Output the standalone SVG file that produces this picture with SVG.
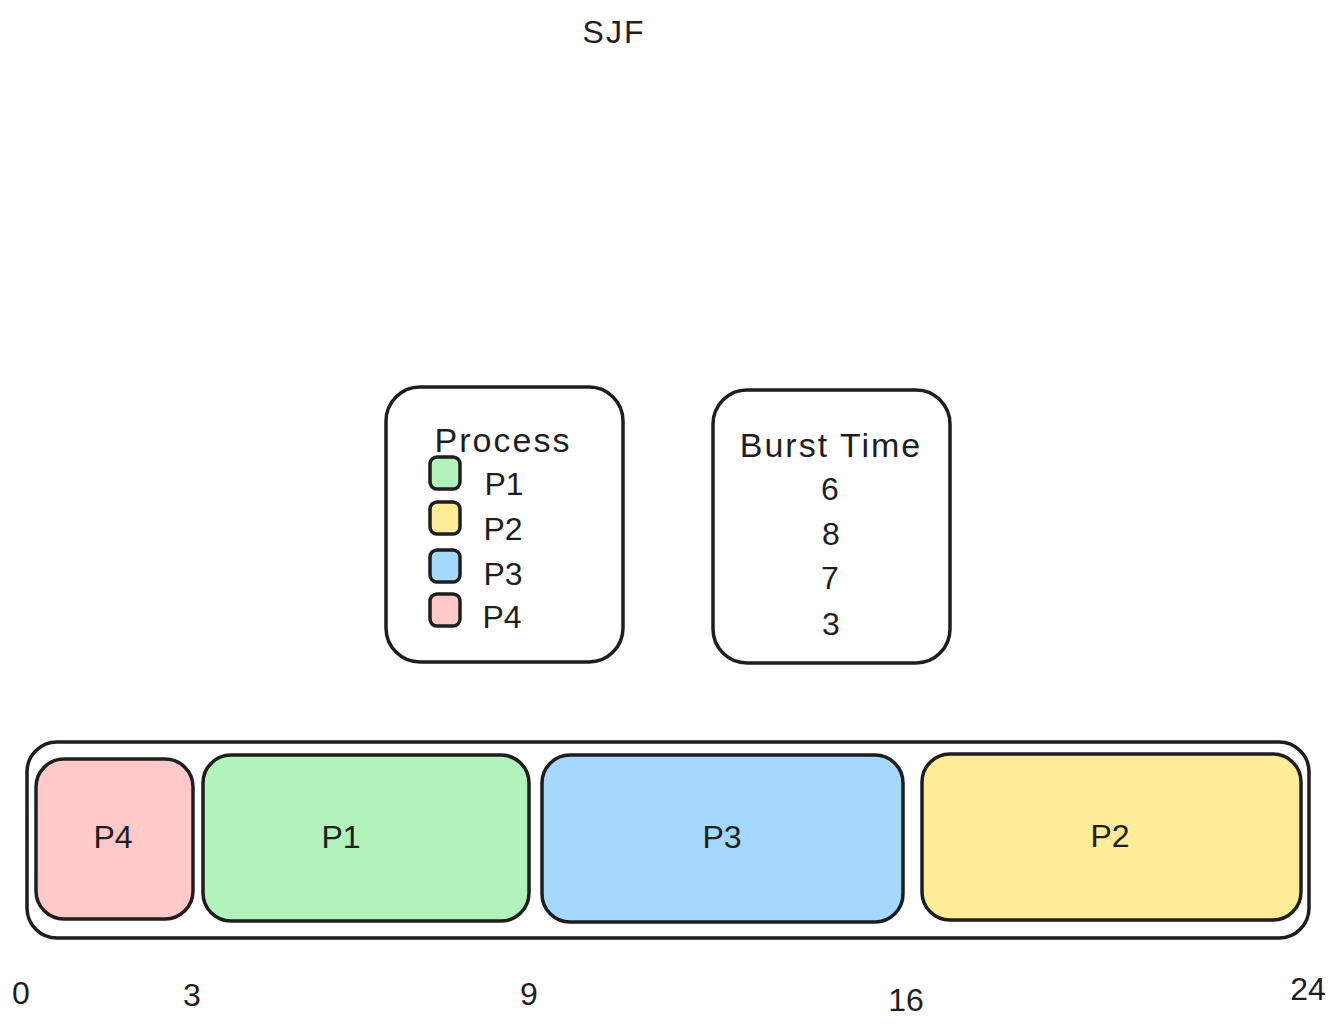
<svg xmlns="http://www.w3.org/2000/svg" width="1344" height="1033" viewBox="0 0 1344 1033">
<style>
.box{stroke:#1e1e1e;stroke-width:3.5;fill:#ffffff}
.sw{stroke:#1e1e1e;stroke-width:3.5}
text{font-family:"Liberation Sans","DejaVu Sans",sans-serif;fill:#1e1e1e;text-anchor:middle}
.t{font-size:32px}
.h{font-size:34px;letter-spacing:2px}
.n{font-size:32px}
</style>
<rect width="1344" height="1033" fill="#ffffff"/>
<g id="title"><text x="614" y="43" class="t" style="letter-spacing:2px">SJF</text></g>
<g id="legend-process">
<rect class="box" x="386" y="387" width="237" height="275" rx="34"/>
<text x="503" y="452" class="h">Process</text>
<rect class="sw" x="430" y="457" width="30" height="32" rx="7" fill="#b2f2bb"/>
<text x="504" y="495" class="t">P1</text>
<rect class="sw" x="430" y="502" width="30" height="32" rx="7" fill="#ffec99"/>
<text x="503" y="540" class="t">P2</text>
<rect class="sw" x="430" y="550" width="30" height="32" rx="7" fill="#a5d8ff"/>
<text x="503" y="585" class="t">P3</text>
<rect class="sw" x="430" y="594" width="30" height="32" rx="7" fill="#ffc9c9"/>
<text x="502" y="628" class="t">P4</text>
</g>
<g id="legend-burst">
<rect class="box" x="713" y="390" width="237" height="273" rx="34"/>
<text x="831" y="457" class="h">Burst Time</text>
<text x="830" y="500" class="n">6</text>
<text x="831" y="545" class="n">8</text>
<text x="830" y="589" class="n">7</text>
<text x="831" y="635" class="n">3</text>
</g>
<g id="timeline">
<rect class="box" x="27" y="742" width="1282" height="196" rx="30"/>
</g>
<g id="block-p4">
<rect class="sw" x="36" y="759" width="157" height="160" rx="28" fill="#ffc9c9"/>
<text x="113" y="848" class="t">P4</text>
</g>
<g id="block-p1">
<rect class="sw" x="203" y="755" width="326" height="166" rx="28" fill="#b2f2bb"/>
<text x="341" y="848" class="t">P1</text>
</g>
<g id="block-p3">
<rect class="sw" x="542" y="755" width="361" height="167" rx="28" fill="#a5d8ff"/>
<text x="722" y="848" class="t">P3</text>
</g>
<g id="block-p2">
<rect class="sw" x="922" y="754" width="379" height="166" rx="28" fill="#ffec99"/>
<text x="1110" y="847" class="t">P2</text>
</g>
<g id="axis">
<text x="21" y="1004" class="n">0</text>
<text x="192" y="1006" class="n">3</text>
<text x="529" y="1005" class="n">9</text>
<text x="906" y="1011" class="n">16</text>
<text x="1308" y="1000" class="n">24</text>
</g>
<g id="connectors"></g>
</svg>
